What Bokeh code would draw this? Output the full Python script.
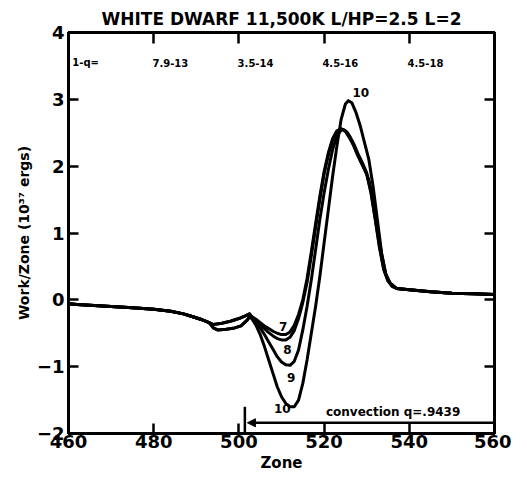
from bokeh.plotting import figure
from bokeh.models import Range1d, LinearAxis, FixedTicker, Label, Arrow, NormalHead, Title
from bokeh.core.properties import value
from bokeh.embed import file_html
from bokeh.resources import INLINE

# ---------------- data ----------------
title_text = "WHITE DWARF 11,500K L/HP=2.5 L=2"
x_label = "Zone"
y_label = "Work/Zone (10\u00b3\u2077 ergs)"

x_ticks = [460, 480, 500, 520, 540, 560]
y_ticks = [-2, -1, 0, 1, 2, 3, 4]
top_ticks = [480, 500, 520, 540]
right_ticks = [-1, 0, 1, 2, 3]

# 1-q values written along the top
q_zones = [460.9, 479.7, 499.7, 519.6, 539.6]
q_labels = ["1-q=", "7.9-13", "3.5-14", "4.5-16", "4.5-18"]
q_level = 3.55

# shared outer part of all curves
zone_start = [460, 462, 465, 470, 475, 480, 484, 487, 489, 491, 493]
work_start = [-0.06, -0.07, -0.08, -0.10, -0.12, -0.14, -0.17, -0.21, -0.25, -0.29, -0.34]
zone_tail = [537, 540, 545, 550, 555, 560]
work_tail = [0.17, 0.15, 0.12, 0.10, 0.09, 0.08]

# dip near zone 494-502 (upper branch for 7, 8 ; lower branch for 9, 10)
zone_dip_up = [494, 496, 498, 500, 501.5, 502.5]
work_dip_up = [-0.37, -0.35, -0.32, -0.28, -0.24, -0.21]
zone_dip_lo = [494, 495, 497, 499, 500.5, 502, 502.5]
work_dip_lo = [-0.42, -0.45, -0.44, -0.42, -0.39, -0.30, -0.25]

# central part of each curve
zone_7 = [503, 504, 505, 506, 507, 508, 509, 510, 511, 512, 513, 514, 515, 516, 517, 518, 519, 520,
          521, 522, 523, 524, 525, 526, 527, 528, 529, 530, 531, 532, 533, 534, 535, 536]
work_7 = [-0.25, -0.29, -0.34, -0.39, -0.43, -0.47, -0.50, -0.52, -0.52, -0.48, -0.38, -0.22, 0.0,
          0.32, 0.72, 1.14, 1.55, 1.92, 2.20, 2.41, 2.53, 2.56, 2.52, 2.42, 2.30, 2.15, 2.02, 1.88,
          1.60, 1.20, 0.78, 0.45, 0.28, 0.20]
zone_8 = [503, 504, 505, 506, 507, 508, 509, 510, 511, 512, 513, 514, 515, 516, 517, 518, 519, 520,
          521, 522, 523, 524, 525, 526, 527, 528, 529, 530, 531, 532, 533, 534, 535, 536]
work_8 = [-0.26, -0.31, -0.37, -0.43, -0.49, -0.54, -0.58, -0.60, -0.60, -0.56, -0.46, -0.28, -0.04,
          0.26, 0.66, 1.08, 1.50, 1.88, 2.17, 2.39, 2.52, 2.56, 2.53, 2.45, 2.33, 2.18, 2.05, 1.90,
          1.62, 1.22, 0.80, 0.46, 0.29, 0.20]
zone_9 = [503, 504, 505, 506, 507, 508, 509, 510, 511, 512, 513, 514, 515, 516, 517, 518, 519, 520,
          521, 522, 523, 524, 524.5, 525.5, 526.5, 527.5, 528.5, 529.5, 530.5, 531.5, 532.5, 533.5,
          534.5, 535.5]
work_9 = [-0.27, -0.33, -0.42, -0.52, -0.63, -0.74, -0.85, -0.93, -0.97, -0.98, -0.92, -0.75, -0.45,
          -0.10, 0.30, 0.75, 1.20, 1.60, 1.95, 2.25, 2.45, 2.54, 2.55, 2.50, 2.38, 2.22, 2.08, 1.95,
          1.80, 1.50, 1.10, 0.68, 0.38, 0.25]
zone_10 = [503, 504, 505, 506, 507, 508, 509, 510, 511, 512, 513, 514, 515, 516, 517, 518, 519, 520,
           521, 522, 523, 524, 525, 525.7, 526.5, 527.5, 528.5, 529.5, 530.5, 531.5, 532.5, 533.5,
           534.5, 535.5]
work_10 = [-0.28, -0.38, -0.52, -0.70, -0.90, -1.10, -1.30, -1.45, -1.55, -1.60, -1.60, -1.50, -1.25,
           -0.90, -0.50, -0.10, 0.35, 0.85, 1.35, 1.85, 2.30, 2.70, 2.93, 2.98, 2.95, 2.80, 2.60, 2.35,
           2.10, 1.70, 1.20, 0.70, 0.38, 0.25]

# curve labels
label_text = ["7", "8", "9", "10", "10"]
label_zone = [510.4, 511.4, 512.3, 510.2, 528.6]
label_work = [-0.40, -0.75, -1.16, -1.62, 3.10]

# convection zone marker
conv_text = "convection q=.9439"
conv_start = 501.4
conv_end = 560
conv_level = -1.84
conv_text_zone = 536.2
conv_text_level = -1.68

# ---------------- figure ----------------
FONT = "DejaVu Sans"
p = figure(width=511, height=476, output_backend="svg", toolbar_location=None,
           x_range=Range1d(460, 560), y_range=Range1d(-2, 4),
           min_border_left=68, min_border_right=17, min_border_top=32, min_border_bottom=43,
           background_fill_color="white", border_fill_color="white")
p.grid.visible = False
p.outline_line_color = "black"
p.outline_line_width = 3

p.title.text = title_text
p.title.align = "center"
p.title.text_font = FONT
p.title.text_font_style = "bold"
p.title.text_font_size = "17px"
p.title.text_color = "black"
p.title.standoff = 8

for ax in (p.xaxis[0], p.yaxis[0]):
    ax.major_tick_in = 10
    ax.major_tick_out = 0
    ax.minor_tick_line_color = None
    ax.axis_line_width = 3
    ax.major_tick_line_width = 2.5
    ax.major_label_text_font = FONT
    ax.major_label_text_font_style = "bold"
    ax.major_label_text_font_size = "18px"
    ax.major_label_text_color = "black"
p.xaxis[0].ticker = FixedTicker(ticks=x_ticks)
p.yaxis[0].ticker = FixedTicker(ticks=y_ticks)
p.xaxis[0].major_label_standoff = 1
p.yaxis[0].major_label_standoff = 4
p.xaxis[0].axis_label = x_label
p.xaxis[0].axis_label_text_font = FONT
p.xaxis[0].axis_label_text_font_style = "bold"
p.xaxis[0].axis_label_text_font_size = "15px"
p.xaxis[0].axis_label_text_color = "black"
p.xaxis[0].axis_label_standoff = 3

top_ax = LinearAxis(ticker=FixedTicker(ticks=top_ticks), major_tick_in=11, major_tick_out=0,
                    major_label_overrides={t: "" for t in top_ticks}, minor_tick_line_color=None,
                    axis_line_width=3, major_tick_line_width=2.5)
right_ax = LinearAxis(ticker=FixedTicker(ticks=right_ticks), major_tick_in=10, major_tick_out=0,
                      major_label_overrides={t: "" for t in right_ticks}, minor_tick_line_color=None,
                      axis_line_width=3, major_tick_line_width=2.5)
p.add_layout(top_ax, "above")
p.add_layout(right_ax, "right")

# y label as a side title, shifted upward like the reference
p.add_layout(Title(text=y_label, align="center", offset=40, text_font=FONT, text_font_style="bold",
                   text_font_size="14px", text_color="black", standoff=4), "left")

# curves
curves = [
    (zone_start + zone_dip_up + zone_7 + zone_tail, work_start + work_dip_up + work_7 + work_tail),
    (zone_start + zone_dip_up + zone_8 + zone_tail, work_start + work_dip_up + work_8 + work_tail),
    (zone_start + zone_dip_lo + zone_9 + zone_tail, work_start + work_dip_lo + work_9 + work_tail),
    (zone_start + zone_dip_lo + zone_10 + zone_tail, work_start + work_dip_lo + work_10 + work_tail),
]
for zx, wy in curves:
    p.line(zx, wy, line_color="black", line_width=3, line_join="round", line_cap="round")

p.text(x=label_zone, y=label_work, text=label_text, text_font=value(FONT), text_font_style="bold",
       text_font_size="12px", text_align="center", text_baseline="middle", text_color="black")

p.text(x=q_zones, y=[q_level] * len(q_zones), text=q_labels, text_font=value(FONT),
       text_font_style="bold", text_font_size="10px", text_align="left", text_baseline="middle",
       text_color="black")

# convection marker
p.segment(x0=[conv_start], y0=[-1.6], x1=[conv_start], y1=[-2.0], line_color="black", line_width=2.5)
p.add_layout(Arrow(end=NormalHead(size=8, fill_color="black", line_color="black"),
                   x_start=conv_end, y_start=conv_level, x_end=conv_start + 0.6, y_end=conv_level,
                   line_color="black", line_width=2.5))
p.add_layout(Label(x=conv_text_zone, y=conv_text_level, text=conv_text, text_font=FONT,
                   text_font_style="bold", text_font_size="12px", text_align="center",
                   text_baseline="middle", text_color="black"))

open("out.html", "w").write(file_html(p, INLINE))
